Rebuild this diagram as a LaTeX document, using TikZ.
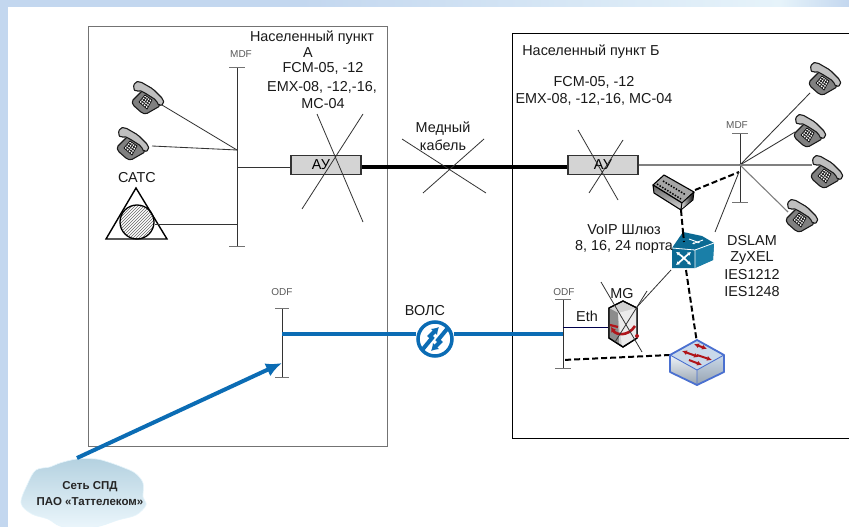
\documentclass[tikz,border=0pt]{standalone}
\usepackage{fontspec}
\setmainfont{Liberation Sans}
\usetikzlibrary{arrows.meta,shapes.geometric,patterns,calc}
\definecolor{band}{HTML}{C3D7EF}
\definecolor{bandb}{HTML}{E6F3FA}
\definecolor{volsblue}{HTML}{0B6CB4}
\definecolor{cube}{HTML}{0B6A93}
\definecolor{cubeb}{HTML}{1A7FA8}
\definecolor{swedge}{HTML}{4A70D0}
\definecolor{swtop}{HTML}{C9D9EA}
\definecolor{swred}{HTML}{B0151A}
\definecolor{ln}{HTML}{333333}
\definecolor{aufill}{HTML}{D4D4D4}
\definecolor{cloudc}{HTML}{BFE3F5}
\tikzset{
  lbl/.style={font=\fontsize{14.4}{16}\selectfont,inner sep=0pt,text=black!90,anchor=base,yshift=-5pt},
  tiny/.style={font=\fontsize{10}{11}\selectfont,inner sep=0pt,text=black!65},
  cloudlbl/.style={font=\fontsize{11.5}{13}\selectfont\bfseries,inner sep=0pt,text=black!85},
  thinl/.style={draw=ln,line width=0.85pt},
  greyl/.style={draw=black!50,line width=1.1pt},
  crossl/.style={draw=ln,line width=0.8pt},
  frameb/.style={draw=black!55,line width=0.9pt},
  dashl/.style={draw=black,line width=2pt,dash pattern=on 6pt off 3pt},
  bar/.style={draw=ln,line width=1pt},
  tick/.style={draw=black!55,line width=1pt},
  aubox/.style={draw=black!80,fill=aufill,line width=1.2pt,minimum width=70pt,minimum height=19pt,inner sep=0pt,font=\fontsize{14.4}{16}\selectfont},
  fibre/.style={draw=volsblue,line width=3.8pt},
  copper/.style={draw=black,line width=4pt},
  phone/.pic={
    \draw[black!90,fill=black!50,line width=1.1pt,line join=round,rounded corners=1.5pt]
      (-5,-7)--(10,4)--(12,9)--(-2,17)--(-6,16)--(-15,8)--(-16,4)--cycle;
    \draw[black!90,fill=black!25,line width=1.1pt,line join=round,rounded corners=2pt]
      (-15,-9)--(-13,-15)--(-8,-15.5)--(5,-8)--(15,2)--(16,7)--(11,9)--(8,3)--(-3,-4)--(-9,-7)--(-12,-5)--cycle;
    \draw[black,fill=white,line width=0.7pt] (-9,5)--(-3,-2)--(4,3)--(-1,12)--cycle;
    \foreach \t in {0.25,0.5,0.75}{
      \draw[black!85,line width=0.8pt] ($(-9,5)!\t!(-3,-2)$)--($(-1,12)!\t!(4,3)$);
      \draw[black!85,line width=0.8pt] ($(-9,5)!\t!(-1,12)$)--($(-3,-2)!\t!(4,3)$);
    }
  }
}
\begin{document}
\begin{tikzpicture}[x=1pt,y=-1pt]
\useasboundingbox (0,0) rectangle (849,527);
\begin{scope}
\clip (0,0) rectangle (849,527);
% slide background
\fill[band] (0,0) rectangle (849,527);
\shade[left color=band,right color=bandb] (300,0) rectangle (780,7);
\shade[left color=bandb,right color=band] (780,0) rectangle (849,7);
\fill[white] (8,7) rectangle (849,527);

% frames
\draw[frameb] (88,26) rectangle (387,446);
\draw[draw=black,line width=1pt] (512,34) -- (512,438) -- (860,438);
\draw[draw=black,line width=1pt] (512,34) -- (860,34);

% named points
\coordinate (mdfA) at (237,150);
\coordinate (mdfAau) at (237,167);
\coordinate (mdfAcat) at (237,224);
\coordinate (odfAf) at (282,334);
\coordinate (odfAi) at (282,363);
\coordinate (mdfB) at (740,165);
\coordinate (odfBf) at (563,334);
\coordinate (odfBe) at (563,327);
\coordinate (odfBd) at (563,360);

% MDF A, ODF A
\draw[bar] (237,68) -- (237,246);
\draw[tick] (229,68) -- (245,68) (229,246) -- (245,246);
\node[tiny] at (241,54) {MDF};
\draw[bar] (282,308) -- (282,377);
\draw[tick] (275,308) -- (289,308) (275,377) -- (289,377);
\node[tiny] at (282,292) {ODF};

% phones A
\pic at (148,97) {phone};
\pic at (133,143) {phone};
\coordinate (pA1) at (162,105);
\coordinate (pA2) at (152,146);
\draw[thinl] (pA1) -- (mdfA);
\draw[thinl] (pA2) -- (mdfA);

% CATS
\node[lbl] at (137,177) {САТС};
\draw[black,line width=1.4pt,line join=miter] (136,188) -- (167,239) -- (106,239) -- cycle;
\node[circle,draw=black,line width=1.3pt,pattern=north east lines,pattern color=black!60,minimum size=34pt,inner sep=0pt] (cat) at (137,222) {};
\draw[thinl] (cat.east |- mdfAcat) -- (mdfAcat);

% AU A
\node[aubox] (auA) at (326,165) {\hspace*{-10pt}АУ};
\draw[thinl] (mdfAau) -- (mdfAau -| auA.west);
\coordinate (xa1) at (317,114); \coordinate (xa2) at (363,222);
\coordinate (xa3) at (363,114); \coordinate (xa4) at (302,209);
\draw[crossl] (xa1) -- (xa2) (xa3) -- (xa4);

% AU B
\node[aubox] (auB) at (603,165) {АУ};
\draw[copper] (mdfAau -| auA.east) -- (mdfAau -| auB.west);
\coordinate (xb1) at (578,130); \coordinate (xb2) at (618,200);
\coordinate (xb3) at (623,140); \coordinate (xb4) at (589,193);
\draw[crossl] (xb1) -- (xb2) (xb3) -- (xb4);
\draw[greyl] (auB.east) -- (mdfB);

% copper cross
\coordinate (xc1) at (402,139); \coordinate (xc2) at (486,193);
\coordinate (xc3) at (484,139); \coordinate (xc4) at (423,193);
\draw[crossl] (xc1) -- (xc2) (xc3) -- (xc4);

% MDF B
\draw[bar] (740,133) -- (740,202);
\draw[tick] (732,133) -- (748,133) (732,202) -- (748,202);
\node[tiny] at (737,125) {MDF};

% phones B
\pic at (825,78) {phone};
\pic at (810,130) {phone};
\pic at (827,171) {phone};
\pic at (802,215) {phone};
\coordinate (pB1) at (810,93);
\coordinate (pB2) at (795,132);
\coordinate (pB3) at (812,165);
\coordinate (pB4) at (788,212);
\draw[thinl] (mdfB) -- (pB1);
\draw[thinl] (mdfB) -- (pB2);
\draw[greyl] (mdfB) -- (pB3);
\draw[greyl] (mdfB) -- (pB4);

% VoIP gateway
\coordinate (gwR) at (695,190);
\coordinate (gwB) at (681,210);
\coordinate (mdfBd) at (739,172);
\coordinate (dslT) at (683,232);
\draw[dashl] (gwR) -- (mdfBd);
\draw[dashl] (gwB) -- (dslT);
\draw[black,fill=black!35,line width=1.1pt,line join=round] (653,185)--(664,175)--(694,192)--(682,203)--cycle;
\draw[black,top color=black!60,bottom color=black!15,line width=1.1pt,line join=round] (653,185)--(682,203)--(681,210)--(654,193)--cycle;
\draw[black,left color=black!10,right color=black,line width=0.8pt,line join=round] (682,203)--(694,192)--(693,200)--(681,210)--cycle;
\draw[black,line width=1.5pt,dash pattern=on 1.5pt off 1.5pt] (657,184)--(681,199) (663,181)--(686,195);

% DSLAM cube
\coordinate (dslLine) at (715,232);
\draw[thinl] (mdfBd) -- (dslLine);
\fill[cube] (672,248)--(683,232)--(702,236)--(714,243)--(713,260)--(695,268)--(672,268)--cycle;
\fill[cubeb] (695,250)--(714,243)--(713,260)--(695,268)--cycle;
\draw[white,line width=0.8pt] (672,248)--(695,250)--(714,243) (695,250)--(695,268);
\draw[white,line width=1.7pt,{Latex[length=3.5pt,width=4pt]}-{Latex[length=3.5pt,width=4pt]}] (676,265) .. controls (682,260) and (686,256) .. (691,252);
\draw[white,line width=1.7pt,{Latex[length=3.5pt,width=4pt]}-{Latex[length=3.5pt,width=4pt]}] (691,265) .. controls (686,260) and (682,256) .. (676,252);
\draw[white,line width=0.9pt,-{Latex[length=2.5pt,width=2.5pt]}] (689,239) -- (700,243);
\draw[white,line width=0.9pt,-{Latex[length=2.5pt,width=2.5pt]}] (703,240) -- (692,244);
\draw[dashl] (dslT) -- ++(1,10);

% labels
\node[lbl] at (624,229) {VoIP Шлюз};
\node[lbl] at (624,245) {8, 16, 24 порта};
\node[lbl] at (752,240) {DSLAM};
\node[lbl] at (752,256) {ZyXEL};
\node[lbl] at (752,274) {IES1212};
\node[lbl] at (752,291) {IES1248};
\node[lbl] at (312,37) {Населенный пункт};
\node[lbl] at (308,53) {А};
\node[lbl] at (323,68) {FCM-05, -12};
\node[lbl] at (322,87) {EMX-08, -12,-16,};
\node[lbl] at (323,103) {MC-04};
\node[lbl] at (591,51) {Населенный пункт Б};
\node[lbl] at (594,82) {FCM-05, -12};
\node[lbl] at (594,98) {EMX-08, -12,-16, MC-04};
\node[lbl] at (443,127) {Медный};
\node[lbl] at (443,145) {кабель};
\node[lbl] at (425,310) {ВОЛС};
\node[lbl] at (587,316) {Eth};
\node[lbl] at (622,293) {MG};

% ODF B
\draw[bar] (563,299) -- (563,368);
\draw[tick] (555,299) -- (571,299) (555,368) -- (571,368);
\node[tiny] at (564,292) {ODF};

% VOLS
\node[circle,draw=volsblue,fill=white,line width=3.5pt,minimum size=34pt,inner sep=0pt] (vols) at (435,339) {};
\draw[fibre] (odfAf) -- (vols.west |- odfAf);
\draw[fibre] (vols.east |- odfBf) -- (odfBf);
\draw[volsblue,line width=4pt,-{Latex[length=7pt,width=9pt]}] (423,349) -- (432,338) -- (430,336) -- (439,327);
\draw[volsblue,line width=4pt,-{Latex[length=7pt,width=9pt]}] (447,329) -- (438,340) -- (440,342) -- (431,351);

% MG
\coordinate (mgE) at (608,327);
\coordinate (mgT) at (637,307);
\coordinate (swL) at (670,355);
\coordinate (swT) at (697,343);
\coordinate (dslL) at (671,270);
\coordinate (dslB) at (686,270);
\draw[draw=black!70!blue,line width=0.9pt] (odfBe) -- (mgE);
\draw[black,fill=black!18,line width=1.3pt,line join=round] (609,308)--(623,301)--(637,308)--(637,338)--(623,347)--(609,338)--cycle;
\fill[black!45] (609,308)--(618,313)--(619,345)--(609,338)--cycle;
\fill[black!8] (618,313)--(637,308)--(637,338)--(622,346)--cycle;
\draw[black,line width=1.3pt,line join=round] (609,308)--(623,301)--(637,308)--(637,338)--(623,347)--(609,338)--cycle;
\draw[swred,line width=2.6pt,-{Latex[length=5pt,width=6pt]}] (635,326) .. controls (628,337) and (616,335) .. (611,327);
\draw[swred,line width=2.2pt] (610,325) -- (618,327);
\fill[swred] (637,336) circle (2pt);
\coordinate (xm1) at (601,282); \coordinate (xm2) at (642,352);
\coordinate (xm3) at (647,291); \coordinate (xm4) at (615,342);
\draw[crossl] (xm1) -- (xm2) (xm3) -- (xm4);
\draw[crossl] (dslL) -- (mgT);

% switch
\draw[dashl] (dslB) -- (swT);
\draw[dashl] (swL) -- (odfBd);
\path[top color=white!70!swtop,bottom color=black!25!swtop] (670,355)--(697,370)--(697,385)--(670,372)--cycle;
\fill[swtop] (670,355)--(697,340)--(724,355)--(697,370)--cycle;
\path[top color=swtop,bottom color=black!25!swtop] (697,370)--(724,355)--(724,372)--(697,385)--cycle;
\draw[swedge,line width=1.8pt,line join=round] (697,340)--(724,355)--(724,372)--(697,385)--(670,372)--(670,355)--cycle;
\draw[swedge,line width=0.9pt] (670,355)--(697,370)--(724,355) (697,370)--(697,385);
\draw[swred,line width=2pt,{Latex[length=5pt,width=5pt]}-{Latex[length=5pt,width=5pt]}] (694,344) -- (707,349);
\draw[swred,line width=2pt,{Latex[length=5pt,width=5pt]}-{Latex[length=5pt,width=5pt]}] (682,351) -- (699,357);
\draw[swred,line width=2pt,-{Latex[length=5pt,width=5pt]}] (697,355) -- (712,360);
\draw[swred,line width=2pt,-{Latex[length=5pt,width=5pt]}] (689,360) -- (702,365);

% cloud
\coordinate (cl) at (77,458);
\draw[draw=white!60!cloudc,line width=0.6pt,top color=cloudc!90!black!90,bottom color=cloudc!30!white]
  plot[smooth cycle,tension=0.55] coordinates {(28,483) (36,470) (50,467) (60,463) (77,459) (96,459) (108,462) (122,467) (135,473) (143,483) (143,497) (146,505) (136,515) (118,520) (100,526) (80,529) (60,526) (48,519) (32,514) (21,503)};
\node[cloudlbl] (cloudtxt) at (90,487) {Сеть СПД};
\node[cloudlbl] at (90,502) {ПАО «Таттелеком»};

% arrow from network to ODF A
\draw[volsblue,line width=4pt,-{Latex[length=16pt,width=14pt]}] (cl) -- (odfAi);
\end{scope}
\end{tikzpicture}
\end{document}
